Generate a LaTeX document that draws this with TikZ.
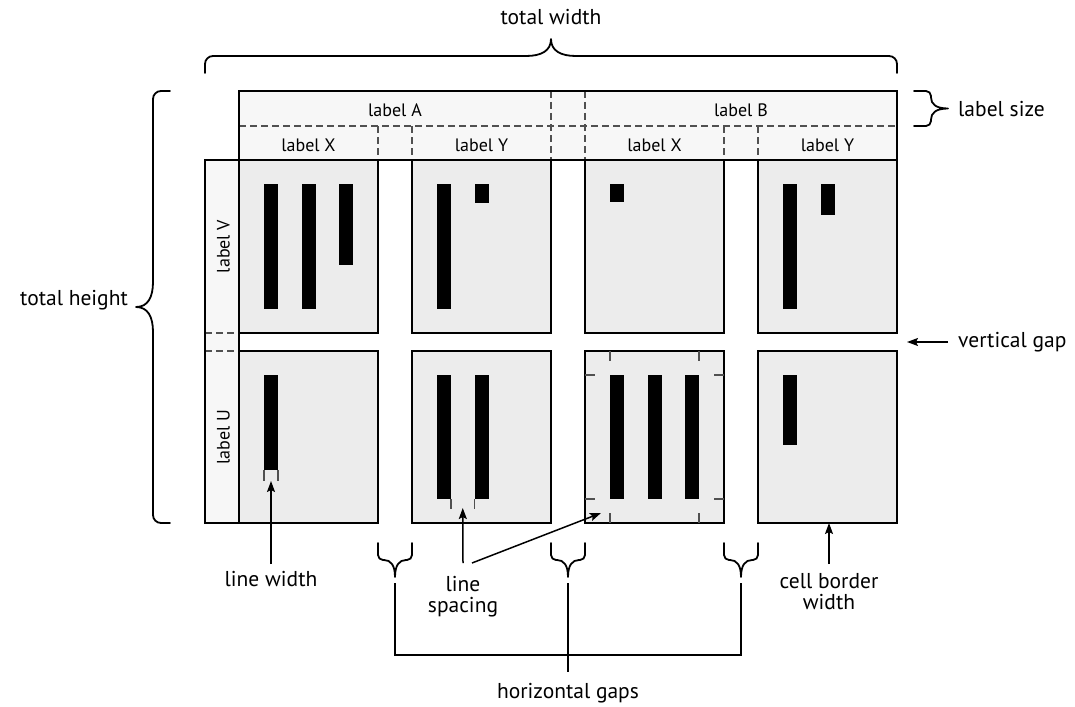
\documentclass[tikz,border=0pt]{standalone}
\usepackage{fontspec}
\setmainfont{PT Sans}
\usetikzlibrary{arrows.meta,calc}

\definecolor{headfill}{HTML}{F7F7F7}
\definecolor{cellfill}{HTML}{ECECEC}
\definecolor{guide}{HTML}{505050}

\tikzset{
  frame/.style={draw=black, line width=1.7pt},
  headbox/.style={frame, fill=headfill, inner sep=0pt, outer sep=0pt, anchor=north west},
  cellbox/.style={frame, fill=cellfill, inner sep=0pt, outer sep=0pt, anchor=north west,
    minimum width=139pt, minimum height=#1},
  bar/.style={fill=black, inner sep=0pt, outer sep=0pt, anchor=north west,
    minimum width=14pt, minimum height=#1},
  divider/.style={draw=guide, line width=1.1pt, dash pattern=on 7pt off 4pt},
  tickline/.style={draw=guide, line width=1.1pt},
  pointer/.style={draw=black, line width=1.5pt, -{Stealth[length=11pt,width=8pt,inset=2pt]}},
  conn/.style={draw=black, line width=1.5pt},
  headtxt/.style={font=\fontsize{18}{21}\selectfont, inner sep=0pt, anchor=base},
  txt/.style={font=\fontsize{21.5}{21}\selectfont, inner sep=0pt},
  % curly brace: length, corner radius, tip reach; tip points to local -y
  pics/cbrace/.style n args={3}{code={
    \pgfmathsetmacro\cbLen{#1}\pgfmathsetmacro\cbRad{#2}
    \pgfmathsetmacro\cbTip{#3}\pgfmathsetmacro\cbMid{#1/2}
    \draw[line width=1.8pt, line cap=round, line join=round]
      (0,0) -- (0,{-17+\cbRad})
      .. controls (0,{-17+0.45*\cbRad}) and ({0.45*\cbRad},-17) .. (\cbRad,-17)
      -- ({\cbMid-\cbTip},-17)
      .. controls ({\cbMid-0.4*\cbTip},-17) and (\cbMid,-22) .. (\cbMid,-34)
      .. controls (\cbMid,-22) and ({\cbMid+0.4*\cbTip},-17) .. ({\cbMid+\cbTip},-17)
      -- ({\cbLen-\cbRad},-17)
      .. controls ({\cbLen-0.45*\cbRad},-17) and (\cbLen,{-17+0.45*\cbRad}) .. (\cbLen,{-17+\cbRad})
      -- (\cbLen,0);
    \coordinate (-tip) at (\cbMid,-34);
    \coordinate (-lead) at (\cbMid,-40);
  }}
}

\begin{document}
\begin{tikzpicture}[x=1pt, y=-1pt]
\useasboundingbox (0,0) rectangle (1075,706);

% ---- column header ----
\node[headbox, minimum width=658pt, minimum height=69pt] (head) at (239,91) {};
\draw[divider] (head.west |- 0,126) -- (head.east |- 0,126);
\draw[divider] (551,91) -- (551,160);
\draw[divider] (585,91) -- (585,160);
\foreach \xx in {378,412,724,758}
  \draw[divider] (\xx,126) -- (\xx,160);
\draw[frame] (head.north west) rectangle (head.south east);

\node[headtxt] (hA) at (395,116.5) {label A};
\node[headtxt] (hB) at (741,116.5) {label B};
\node[headtxt] (hX1) at (308.5,151) {label X};
\node[headtxt] (hY1) at (481.5,151) {label Y};
\node[headtxt] (hX2) at (654.5,151) {label X};
\node[headtxt] (hY2) at (827.5,151) {label Y};

% ---- row header ----
\node[headbox, minimum width=34pt, minimum height=363pt] (side) at (205,160) {};
\draw[divider] (205,333) -- (239,333);
\draw[divider] (205,351) -- (239,351);
\draw[frame] (side.north west) rectangle (side.south east);
\node[headtxt, rotate=90] (hV) at (229.5,246.5) {label V};
\node[headtxt, rotate=90] (hU) at (229.5,437) {label U};

% ---- cells ----
\node[cellbox=173pt] (c11) at (239,160) {};
\node[cellbox=173pt] (c12) at (412,160) {};
\node[cellbox=173pt] (c13) at (585,160) {};
\node[cellbox=173pt] (c14) at (758,160) {};
\node[cellbox=172pt] (c21) at (239,351) {};
\node[cellbox=172pt] (c22) at (412,351) {};
\node[cellbox=172pt] (c23) at (585,351) {};
\node[cellbox=172pt] (c24) at (758,351) {};

% ---- bars ----
\node[bar=125pt] (b11a) at (264,184) {};
\node[bar=125pt] (b11b) at (301.5,184) {};
\node[bar=81pt]  (b11c) at (339,184) {};
\node[bar=125pt] (b12a) at (437,184) {};
\node[bar=19pt]  (b12b) at (474.5,184) {};
\node[bar=18pt]  (b13a) at (610,184) {};
\node[bar=125pt] (b14a) at (783,184) {};
\node[bar=31pt]  (b14b) at (820.5,184) {};
\node[bar=95pt]  (b21a) at (264,375) {};
\node[bar=124pt] (b22a) at (437,375) {};
\node[bar=124pt] (b22b) at (474.5,375) {};
\node[bar=124pt] (b23a) at (610,375) {};
\node[bar=124pt] (b23b) at (647.5,375) {};
\node[bar=124pt] (b23c) at (685,375) {};
\node[bar=70pt]  (b24a) at (783,375) {};

% ---- measuring marks ----
\draw[tickline] (b21a.south west) -- ++(0,11);
\draw[tickline] (b21a.south east) -- ++(0,11);
\coordinate (lwtip) at ($(b21a.south)+(0,11)$);

\draw[tickline] (b22a.south east) -- ++(0,10);
\draw[tickline] (b22b.south west) -- ++(0,10);
\coordinate (lstip) at ($(b22a.south east)!.5!(b22b.south west)+(0,9)$);

\draw[tickline] (b23a.west |- c23.north) -- ++(0,10);
\draw[tickline] (b23c.east |- c23.north) -- ++(0,10);
\draw[tickline] (b23a.west |- c23.south) -- ++(0,-10);
\draw[tickline] (b23c.east |- c23.south) -- ++(0,-10);
\draw[tickline] (c23.west |- b23a.north) -- ++(10,0);
\draw[tickline] (c23.east |- b23a.north) -- ++(-10,0);
\draw[tickline] (c23.west |- b23a.south) -- ++(10,0);
\draw[tickline] (c23.east |- b23a.south) -- ++(-10,0);
\coordinate (padtip) at ($(c23.south west)+(16,-10)$);

% ---- annotations ----
\node[txt, anchor=base] (tw) at (551,25) {total width};
\pic (bw) at (205,73) {cbrace={692}{8}{25}};

\node[txt, anchor=base east] (th) at (128,305) {total height};
\pic[rotate=90] (bh) at (170,523) {cbrace={432}{8}{25}};

\node[txt, anchor=base west] (ls) at (958,116.5) {label size};
\pic[rotate=-90] (bl) at (914,91) {cbrace={35}{5}{11}};

\node[txt, anchor=base west] (vg) at (958,347) {vertical gap};
\coordinate (vgtip) at ($(c14.south east)!.5!(c24.north east)+(10,0)$);
\draw[pointer] (vg.west |- vgtip) ++(-10,0) -- (vgtip);

\node[txt, anchor=north] (lw) at (271,571) {line width};
\draw[pointer] ($(lw.north)+(0,-7)$) -- (lwtip);

\node[txt, align=center, anchor=north] (lsp) at (463,576) {line\\spacing};
\draw[pointer] ($(lsp.north)+(0,-13)$) -- (lstip);
\draw[pointer] ($(lsp.north)+(9,-13)$) -- (padtip);

\node[txt, align=center, anchor=north] (cbw) at (829,573) {cell border\\width};
\draw[pointer] ($(cbw.north)+(0,-9)$) -- (c24.south -| cbw.north);

\pic[yscale=-1] (g1) at (378,543) {cbrace={34}{5}{11}};
\pic[yscale=-1] (g2) at (551,543) {cbrace={34}{5}{11}};
\pic[yscale=-1] (g3) at (724,543) {cbrace={34}{5}{11}};
\node[txt, anchor=north] (hg) at (568,683) {horizontal gaps};
\draw[conn] (g1-lead) -- ++(0,72) -| (g3-lead);
\draw[conn] (g2-lead) -- ($(hg.north)+(0,-11)$);

\end{tikzpicture}
\end{document}
